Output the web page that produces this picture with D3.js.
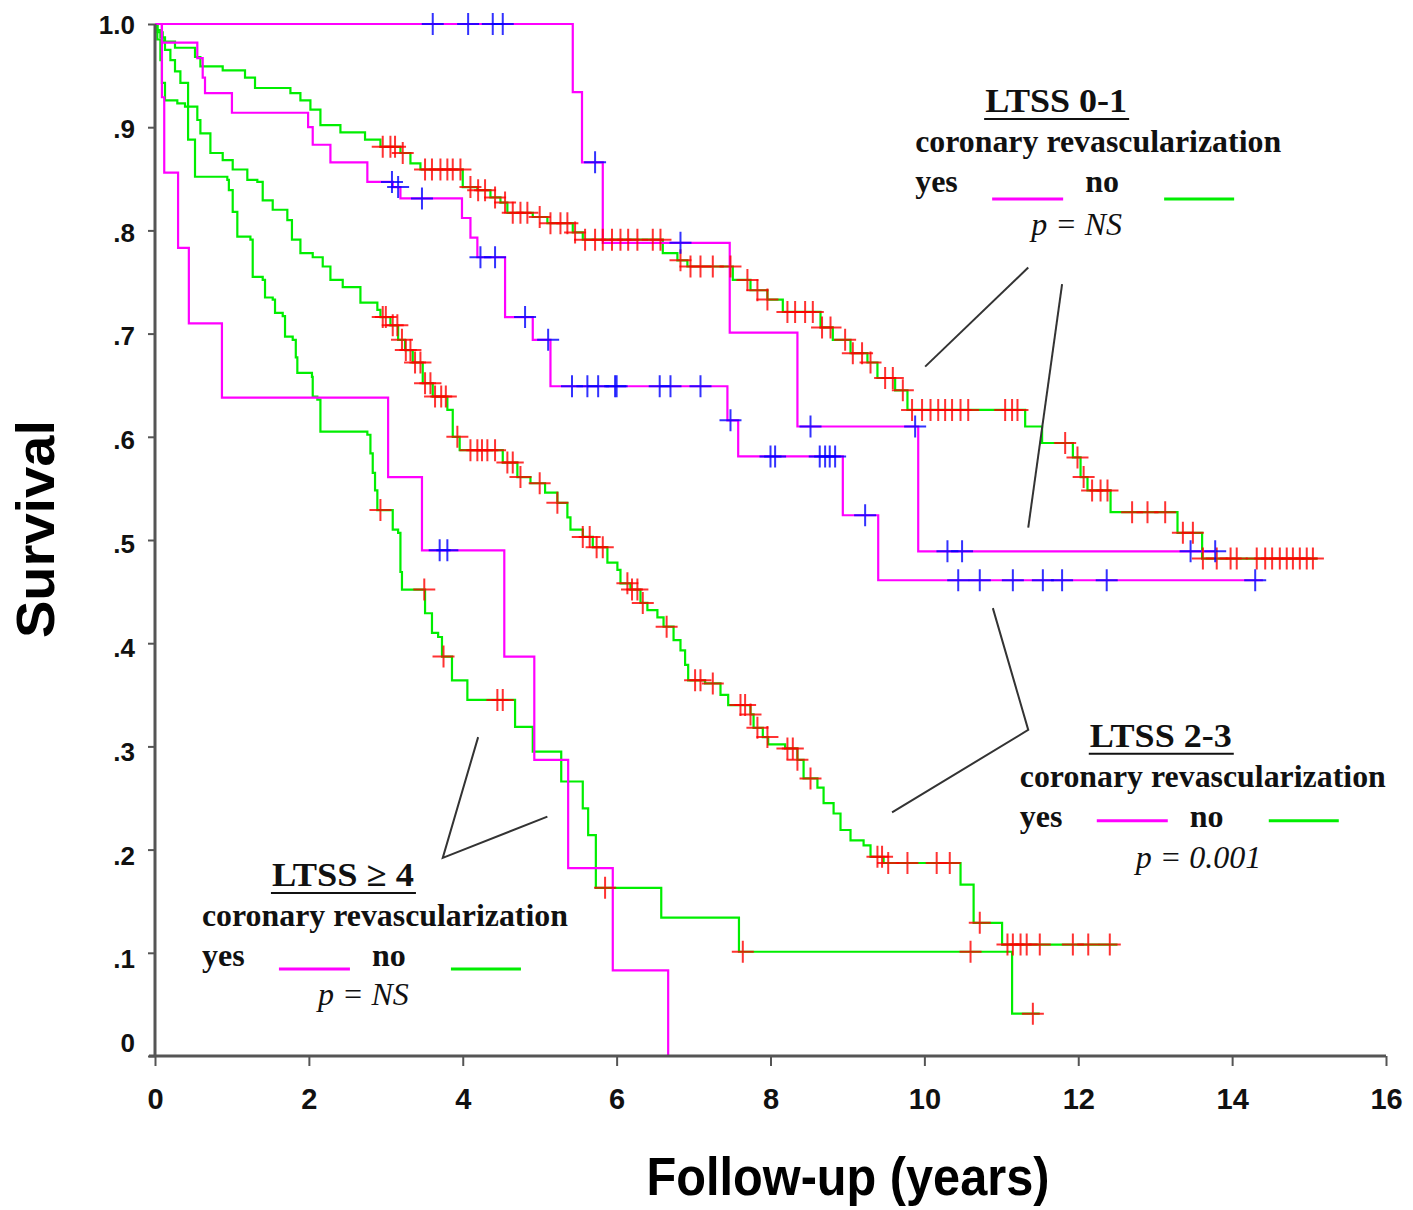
<!DOCTYPE html>
<html>
<head>
<meta charset="utf-8">
<script src="https://cdn.jsdelivr.net/npm/d3@7"></script>
<style>
  body { margin: 0; background: #fff; }
  svg { display: block; }
</style>
</head>
<body>
<svg id="km_svg" width="1413" height="1210"></svg>
<script>

// ---- data ----
var xTicks = [0, 2, 4, 6, 8, 10, 12, 14, 16];
var yTicks = [0, 0.1, 0.2, 0.3, 0.4, 0.5, 0.6, 0.7, 0.8, 0.9, 1.0];
var yTickLabels = ["0", ".1", ".2", ".3", ".4", ".5", ".6", ".7", ".8", ".9", "1.0"];

// LTSS 0-1, revascularization yes
var ltss01YesSteps = [[5.43,0.934],[5.55,0.866],[5.82,0.788],[7.47,0.701],[8.35,0.610],[9.92,0.489]];
var ltss01YesEnd = 13.78;
var ltss01YesCensored = [3.61,4.07,4.39,4.52,5.72,6.83,8.52,9.88,10.30,10.49,13.46,13.78];

// LTSS 0-1, revascularization no
var ltss01NoSteps = [[0.03,0.992],[0.10,0.983],[0.26,0.977],[0.52,0.968],[0.59,0.959],[0.88,0.955],
  [1.17,0.948],[1.30,0.938],[1.76,0.933],[1.89,0.926],[2.02,0.917],[2.15,0.902],[2.41,0.895],
  [2.73,0.888],[2.93,0.881],[3.19,0.875],[3.32,0.865],[3.45,0.859],[4.00,0.842],[4.19,0.839],
  [4.36,0.832],[4.49,0.827],[4.58,0.817],[4.91,0.813],[5.10,0.807],[5.43,0.798],[5.56,0.791],
  [6.60,0.778],[6.79,0.771],[6.92,0.765],[7.51,0.752],[7.74,0.742],[7.96,0.733],[8.16,0.721],
  [8.65,0.706],[8.81,0.694],[9.04,0.681],[9.26,0.672],[9.39,0.657],[9.62,0.645],[9.78,0.626],
  [11.31,0.610],[11.53,0.594],[11.93,0.580],[12.03,0.561],[12.12,0.548],[12.42,0.527],
  [13.29,0.507],[13.61,0.482]];
var ltss01NoEnd = 15.11;
var ltss01NoCensored = [2.96,3.06,3.12,3.22,3.51,3.60,3.71,3.80,3.87,3.97,4.10,4.20,4.29,4.42,
  4.55,4.65,4.75,4.84,5.00,5.14,5.27,5.36,5.46,5.59,5.72,5.82,5.94,6.05,6.15,6.27,6.47,6.57,
  6.83,6.96,7.09,7.25,7.48,7.70,7.83,7.96,8.22,8.32,8.45,8.55,8.67,8.78,8.97,9.07,9.19,9.30,
  9.49,9.59,9.72,9.84,9.97,10.08,10.18,10.27,10.36,10.47,10.57,11.05,11.14,11.21,11.83,11.99,
  12.07,12.18,12.29,12.38,12.70,12.90,13.13,13.36,13.49,13.62,13.80,13.98,14.06,14.32,14.43,
  14.52,14.62,14.71,14.79,14.88,14.97,15.05];

// LTSS 2-3, revascularization yes
var ltss23YesSteps = [[0.09,0.982],[0.55,0.967],[0.62,0.948],[0.65,0.933],[1.00,0.914],[1.99,0.900],
  [2.05,0.883],[2.28,0.866],[2.76,0.847],[3.09,0.842],[3.19,0.831],[3.99,0.812],[4.10,0.793],
  [4.19,0.774],[4.55,0.716],[4.91,0.694],[5.14,0.649],[7.44,0.616],[7.58,0.581],[8.94,0.524],
  [9.40,0.461]];
var ltss23YesEnd = 14.40;
var ltss23YesCensored = [3.08,3.16,3.47,4.23,4.42,4.81,5.11,5.42,5.62,5.76,5.98,6.00,6.56,6.70,
  7.09,7.48,8.00,8.06,8.64,8.71,8.77,8.84,9.23,10.44,10.72,11.15,11.54,11.79,12.37,14.30];

// LTSS 2-3, revascularization no
var ltss23NoSteps = [[0.03,0.994],[0.07,0.987],[0.13,0.975],[0.20,0.965],[0.26,0.954],[0.33,0.943],
  [0.43,0.920],[0.55,0.907],[0.59,0.894],[0.72,0.875],[0.88,0.868],[1.01,0.859],[1.20,0.849],
  [1.33,0.847],[1.40,0.829],[1.53,0.820],[1.72,0.810],[1.78,0.791],[1.89,0.778],[2.05,0.774],
  [2.18,0.765],[2.28,0.752],[2.44,0.745],[2.67,0.730],[2.89,0.723],[2.93,0.716],[3.06,0.708],
  [3.16,0.694],[3.25,0.684],[3.35,0.672],[3.48,0.652],[3.61,0.639],[3.80,0.626],[3.87,0.600],
  [3.96,0.587],[4.52,0.575],[4.71,0.561],[4.88,0.555],[5.07,0.546],[5.23,0.536],[5.36,0.522],
  [5.40,0.510],[5.56,0.503],[5.69,0.493],[5.88,0.478],[6.01,0.471],[6.05,0.458],[6.18,0.452],
  [6.31,0.439],[6.40,0.432],[6.53,0.425],[6.61,0.416],[6.74,0.403],[6.83,0.393],[6.89,0.379],
  [6.93,0.364],[7.15,0.361],[7.35,0.350],[7.45,0.340],[7.74,0.331],[7.78,0.318],[7.90,0.309],
  [7.97,0.302],[8.19,0.298],[8.35,0.287],[8.43,0.269],[8.61,0.260],[8.69,0.245],[8.82,0.235],
  [8.91,0.219],[9.04,0.209],[9.21,0.204],[9.30,0.193],[9.47,0.187],[10.47,0.166],[10.64,0.129],
  [11.01,0.108]];
var ltss23NoEnd = 12.51;
var ltss23NoCensored = [2.96,3.00,3.09,3.15,3.21,3.26,3.32,3.38,3.45,3.51,3.58,3.64,3.72,3.78,
  3.93,4.10,4.19,4.25,4.32,4.42,4.58,4.65,4.75,5.00,5.23,5.56,5.65,5.74,5.82,6.14,6.20,6.27,
  6.34,6.65,7.02,7.09,7.25,7.61,7.67,7.74,7.83,7.96,8.22,8.29,8.35,8.52,9.39,9.45,9.53,9.78,
  10.16,10.33,10.72,11.08,11.15,11.25,11.33,11.50,11.93,12.13,12.41];

// LTSS >= 4, revascularization yes
var ltss4YesSteps = [[0.09,0.929],[0.12,0.856],[0.30,0.783],[0.44,0.710],[0.87,0.638],[3.03,0.561],
  [3.47,0.490],[4.54,0.387],[4.93,0.287],[5.37,0.182],[5.95,0.083],[6.67,0.000]];
var ltss4YesEnd = 6.67;
var ltss4YesCensored = [3.70,3.80];

// LTSS >= 4, revascularization no
var ltss4NoSteps = [[0.03,0.985],[0.07,0.965],[0.09,0.943],[0.13,0.926],[0.29,0.923],[0.39,0.920],
  [0.43,0.888],[0.52,0.852],[0.94,0.849],[0.96,0.839],[1.01,0.818],[1.07,0.794],[1.24,0.791],
  [1.27,0.755],[1.40,0.752],[1.43,0.735],[1.53,0.733],[1.56,0.720],[1.66,0.717],[1.69,0.697],
  [1.79,0.694],[1.83,0.677],[1.85,0.662],[2.04,0.658],[2.05,0.639],[2.11,0.636],[2.15,0.605],
  [2.76,0.602],[2.80,0.584],[2.83,0.565],[2.86,0.548],[2.89,0.529],[3.09,0.510],[3.16,0.507],
  [3.19,0.469],[3.21,0.452],[3.51,0.429],[3.60,0.410],[3.68,0.406],[3.73,0.387],[3.86,0.364],
  [4.06,0.345],[4.68,0.319],[4.91,0.295],[5.28,0.266],[5.56,0.240],[5.63,0.214],[5.73,0.163],
  [6.58,0.134],[7.59,0.101],[11.14,0.041]];
var ltss4NoEnd = 11.50;
var ltss4NoCensored = [2.93,3.50,3.75,4.45,4.52,5.85,7.64,10.60,11.41];

var curves = [
  { steps: ltss01NoSteps,  end: ltss01NoEnd,  censored: ltss01NoCensored,  revasc: "no" },
  { steps: ltss23NoSteps,  end: ltss23NoEnd,  censored: ltss23NoCensored,  revasc: "no" },
  { steps: ltss4NoSteps,   end: ltss4NoEnd,   censored: ltss4NoCensored,   revasc: "no" },
  { steps: ltss01YesSteps, end: ltss01YesEnd, censored: ltss01YesCensored, revasc: "yes" },
  { steps: ltss23YesSteps, end: ltss23YesEnd, censored: ltss23YesCensored, revasc: "yes" },
  { steps: ltss4YesSteps,  end: ltss4YesEnd,  censored: ltss4YesCensored,  revasc: "yes" }
];

var lineColor = { yes: "#ff00ff", no: "#00ee00" };
var markColor = { yes: "#0000ff", no: "#ff0000" };

// ---- drawing ----
var svg = d3.select("#km_svg");

var x = d3.scaleLinear().domain([0, 16]).range([155, 1386]);
var y = d3.scaleLinear().domain([0, 1]).range([1056, 24]);

function survAt(steps, t) {
  var s = 1;
  steps.forEach(function(p){ if (p[0] <= t) s = p[1]; });
  return s;
}

var kmLine = d3.line()
  .x(function(d){ return x(d[0]); })
  .y(function(d){ return y(d[1]); })
  .curve(d3.curveStepAfter);

var plot = svg.append("g");

curves.forEach(function(c){
  var pts = [[0, 1]].concat(c.steps);
  pts.push([c.end, c.steps[c.steps.length - 1][1]]);
  plot.append("path")
    .attr("d", kmLine(pts))
    .attr("fill", "none")
    .attr("stroke", lineColor[c.revasc])
    .attr("stroke-width", 2.2);
});

curves.forEach(function(c){
  plot.append("g").selectAll("path").data(c.censored).enter().append("path")
    .attr("transform", function(t){ return "translate(" + x(t) + "," + y(survAt(c.steps, t)) + ")"; })
    .attr("d", "M-11,0H11M0,-11V11")
    .attr("stroke", markColor[c.revasc])
    .attr("stroke-width", 2)
    .attr("opacity", 0.8);
});

// axes
var xAxis = svg.append("g")
  .attr("transform", "translate(0," + y(0) + ")")
  .call(d3.axisBottom(x).tickValues(xTicks).tickSize(10).tickSizeOuter(0).tickPadding(22)
    .tickFormat(d3.format("d")));
xAxis.select(".domain").remove();
xAxis.selectAll(".tick line").attr("stroke", "#555").attr("stroke-width", 2);
xAxis.selectAll(".tick text")
  .style("font-family", "Liberation Sans, Arial, sans-serif")
  .style("font-weight", "bold").style("font-size", "29px").attr("fill", "#111");

var yAxis = svg.append("g")
  .attr("transform", "translate(" + x(0) + ",0)")
  .call(d3.axisLeft(y).tickValues(yTicks).tickSize(7).tickSizeOuter(0).tickPadding(13)
    .tickFormat(function(d, i){ return yTickLabels[i]; }));
yAxis.select(".domain").remove();
yAxis.selectAll(".tick line").attr("stroke", "#555").attr("stroke-width", 2);
yAxis.selectAll(".tick text")
  .style("font-family", "Liberation Sans, Arial, sans-serif")
  .style("font-weight", "bold").style("font-size", "26px").attr("fill", "#111")
  .attr("dy", function(d){ return d === 0 ? "-0.18em" : "0.32em"; })
  .attr("y", function(d){ return d === 0 ? 0 : 1 + 6.5 * (1 - d); });

svg.append("line")
  .attr("x1", x(0) - 6).attr("x2", x(16)).attr("y1", y(0)).attr("y2", y(0))
  .attr("stroke", "#555").attr("stroke-width", 3);
svg.append("line")
  .attr("x1", x(0)).attr("x2", x(0)).attr("y1", y(0)).attr("y2", y(1))
  .attr("stroke", "#555").attr("stroke-width", 3);

// axis titles
svg.append("text")
  .attr("x", 848).attr("y", 1195)
  .attr("text-anchor", "middle")
  .attr("textLength", 403).attr("lengthAdjust", "spacingAndGlyphs")
  .style("font-family", "Liberation Sans, Arial, sans-serif")
  .style("font-weight", "bold").style("font-size", "54px")
  .text("Follow-up (years)");

svg.append("text")
  .attr("transform", "translate(54,529) rotate(-90)")
  .attr("text-anchor", "middle")
  .attr("textLength", 218).attr("lengthAdjust", "spacingAndGlyphs")
  .style("font-family", "Liberation Sans, Arial, sans-serif")
  .style("font-weight", "bold").style("font-size", "54px")
  .text("Survival");

// annotation blocks (anchor = start of "coronary revascularization", data units)
var blocks = [
  { title: "LTSS 0-1", p: "p = NS",    at: [9.88, 0.876], lineDy: 47, pDy: 83,
    pointers: [[[11.35,0.764],[10.01,0.668]], [[11.79,0.748],[11.35,0.512]]] },
  { title: "LTSS 2-3", p: "p = 0.001", at: [11.24, 0.261], lineDy: 34, pDy: 81,
    pointers: [[[10.89,0.434],[11.35,0.316],[9.58,0.236]]] },
  { title: "LTSS \u2265 4", p: "p = NS", at: [0.61, 0.126], lineDy: 43, pDy: 79,
    pointers: [[[4.20,0.309],[3.74,0.192],[5.10,0.232]]] }
];

var serif = "Liberation Serif, Times New Roman, serif";

blocks.forEach(function(b){
  var g = svg.append("g")
    .attr("transform", "translate(" + x(b.at[0]) + "," + y(b.at[1]) + ")")
    .style("font-family", serif).attr("fill", "#111");

  g.append("text").attr("x", 70).attr("y", -40)
    .attr("textLength", 142).attr("lengthAdjust", "spacingAndGlyphs")
    .style("font-weight", "bold").style("font-size", "34px").text(b.title);
  g.append("line").attr("x1", 69).attr("x2", 214).attr("y1", -33).attr("y2", -33)
    .attr("stroke", "#111").attr("stroke-width", 2);

  g.append("text").attr("x", 0).attr("y", 0)
    .attr("textLength", 366).attr("lengthAdjust", "spacingAndGlyphs")
    .style("font-weight", "bold").style("font-size", "32px").text("coronary revascularization");

  g.append("text").attr("x", 0).attr("y", 40)
    .style("font-weight", "bold").style("font-size", "32px").text("yes");
  g.append("text").attr("x", 170).attr("y", 40)
    .style("font-weight", "bold").style("font-size", "32px").text("no");

  g.append("line").attr("x1", 77).attr("x2", 148).attr("y1", b.lineDy).attr("y2", b.lineDy)
    .attr("stroke", lineColor.yes).attr("stroke-width", 3);
  g.append("line").attr("x1", 249).attr("x2", 319).attr("y1", b.lineDy).attr("y2", b.lineDy)
    .attr("stroke", lineColor.no).attr("stroke-width", 3);

  g.append("text").attr("x", 116).attr("y", b.pDy)
    .style("font-style", "italic").style("font-size", "32px").text(b.p);

  b.pointers.forEach(function(pl){
    svg.append("path")
      .attr("d", d3.line().x(function(d){ return x(d[0]); }).y(function(d){ return y(d[1]); })(pl))
      .attr("fill", "none").attr("stroke", "#333").attr("stroke-width", 2);
  });
});

</script>
</body>
</html>
